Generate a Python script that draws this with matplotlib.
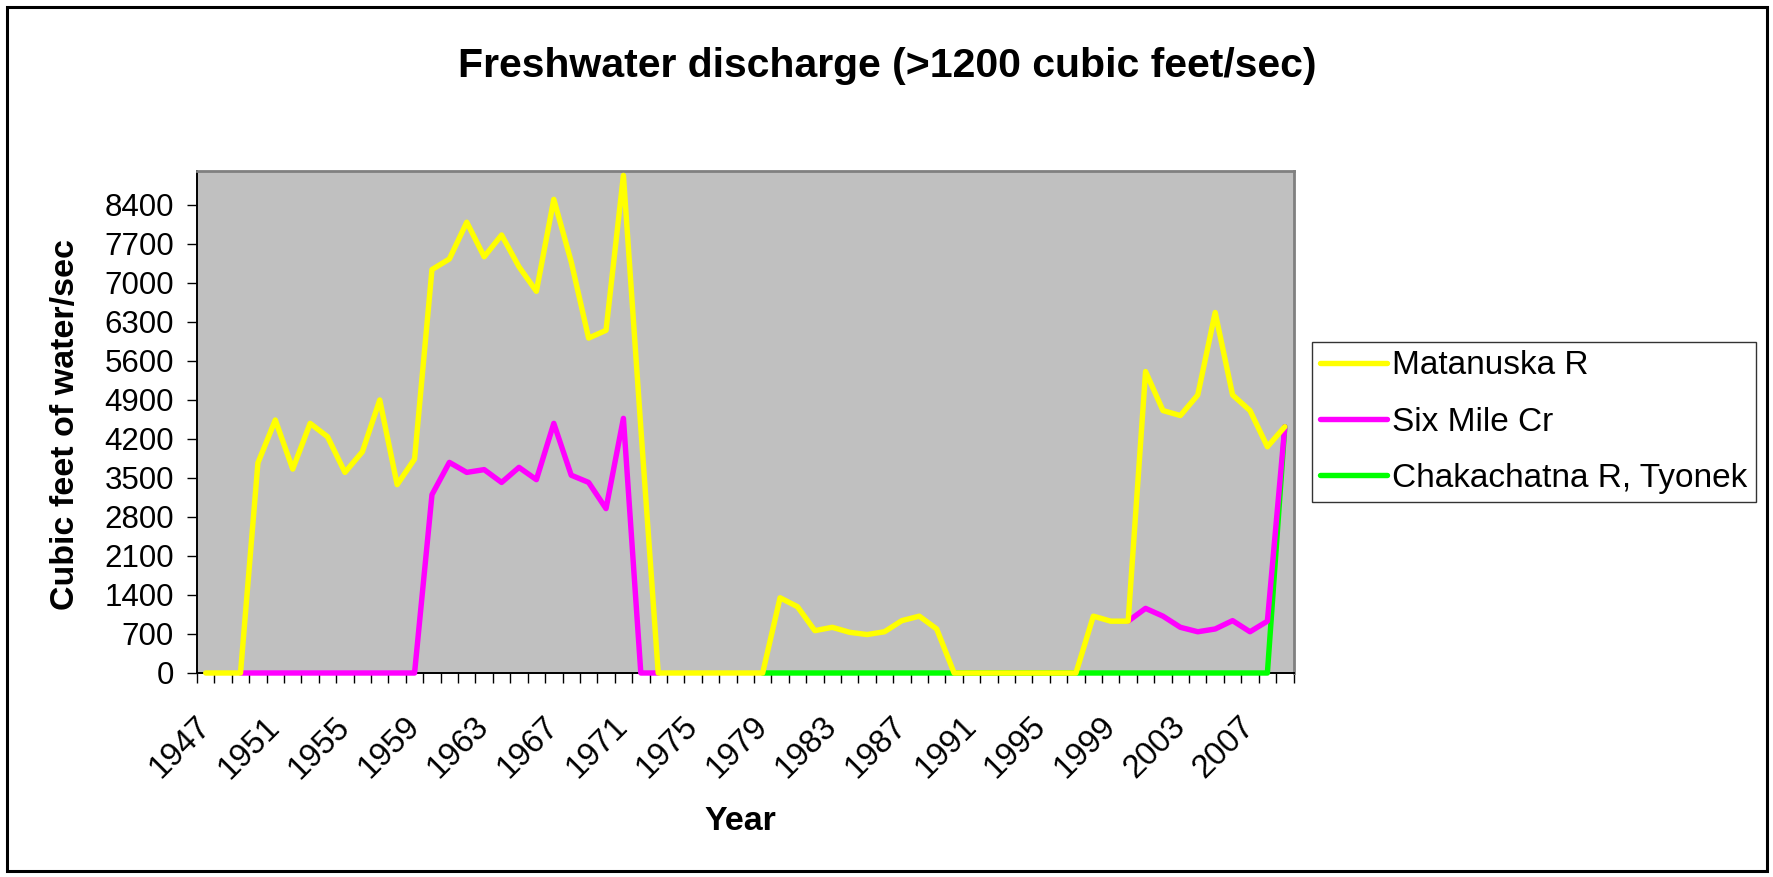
import numpy as np
import matplotlib
matplotlib.use('Agg')
import matplotlib.pyplot as plt
from matplotlib.transforms import ScaledTranslation
from matplotlib.patches import Rectangle

plt.rcParams['font.family'] = ['Liberation Sans', 'DejaVu Sans']

# ---------------- data ----------------
years = list(range(1947, 2010))
matanuska = [0, 0, 0,
             3770, 4540, 3660, 4480, 4240, 3600, 3970, 4900, 3380, 3840,
             7240, 7430, 8090, 7470, 7860, 7290, 6850, 8500, 7380, 6010, 6150, 8930, 4400,
             0, 0, 0, 0, 0, 0, 0,
             1350, 1190, 760, 820, 730, 690, 740, 940, 1020, 790,
             0, 0, 0, 0, 0, 0, 0, 0,
             1020, 930, 930, 5410, 4710, 4620, 4990, 6470, 4990, 4710, 4060, 4420]
six_mile = [None, None,
            0, 0, 0, 0, 0, 0, 0, 0, 0, 0, 0,
            3200, 3780, 3600, 3650, 3420, 3690, 3470, 4480, 3550, 3420, 2950, 4570,
            0, 0] + [None] * 26 + \
           [930, 1160, 1020, 820, 740, 790, 940, 740, 930, 4420]
chakachatna = [None] * 32 + [0] * 30 + [4420]
series_names = ['Matanuska R', 'Six Mile Cr', 'Chakachatna R, Tyonek']
series_colors = ['#FFFF00', '#FF00FF', '#00FF00']
y_ticks = list(range(0, 8401, 700))
label_years = years[::4]

title = 'Freshwater discharge (>1200 cubic feet/sec)'
ylabel = 'Cubic feet of water/sec'
xlabel = 'Year'

# ---------------- figure ----------------
W, H = 1773, 877
fig = plt.figure(figsize=(W / 100, H / 100), dpi=100)
fig.patch.set_facecolor('white')

L, R, T, B = 197, 1293.5, 171.5, 673
ax = fig.add_axes([L / W, 1 - B / H, (R - L) / W, (B - T) / H])
ax.set_facecolor('#C0C0C0')

x = np.arange(len(years))
def arr(v):
    return np.array([np.nan if a is None else a for a in v], dtype=float)

data = [arr(matanuska), arr(six_mile), arr(chakachatna)]
zorders = [5, 4, 3]
lw = 3.9
handles = []
for d, c, z, n in zip(data, series_colors, zorders, series_names):
    ln, = ax.plot(x, d, color=c, lw=lw, zorder=z, solid_joinstyle='round',
                  solid_capstyle='round', label=n, clip_on=False)
    handles.append(ln)

ax.set_xlim(-0.5, len(years) - 0.5)
ax.set_ylim(0, 9000)
ax.set_yticks(y_ticks)
ax.set_yticklabels([str(v) for v in y_ticks])
ax.set_xticks(np.arange(-0.5, len(years), 1))
ax.set_xticklabels([])
ax.tick_params(axis='both', direction='out', length=7.5, width=1.0, color='black')
ax.tick_params(axis='y', labelsize=22.5, pad=9)

for s in ['left', 'bottom']:
    ax.spines[s].set_color('black')
    ax.spines[s].set_linewidth(1.4)
for s in ['top', 'right']:
    ax.spines[s].set_color('#808080')
    ax.spines[s].set_linewidth(2.0)

off = ScaledTranslation(-11 / 100, -38 / 100, fig.dpi_scale_trans)
for yv in label_years:
    i = years.index(yv)
    ax.text(i, 0, str(yv), transform=ax.get_xaxis_transform() + off,
            rotation=45, rotation_mode='anchor', ha='right', va='top',
            fontsize=23.5)

fig.text(887.5 / W, 1 - 66 / H, title, ha='center', va='center',
         fontsize=29.5, fontweight='bold')
fig.text(66 / W, 1 - 424 / H, ylabel, ha='center', va='center', rotation=90,
         fontsize=24.5, fontweight='bold')
fig.text(740.6 / W, 1 - 822 / H, xlabel, ha='center', va='center',
         fontsize=24.5, fontweight='bold')

leg = fig.legend(handles=handles, labels=series_names, loc='upper left',
                 bbox_to_anchor=(1312 / W, 1 - 342 / H), frameon=True,
                 fontsize=24, handlelength=2.0, handletextpad=0.15,
                 labelspacing=0.76, borderpad=0.25, borderaxespad=0,
                 fancybox=False, edgecolor='black')
leg.get_frame().set_linewidth(1.0)

fig.patches.append(Rectangle((7 / W, (H - 871) / H), (1767 - 7) / W, (871 - 6.5) / H,
                             transform=fig.transFigure, fill=False,
                             edgecolor='black', lw=2.2))

fig.savefig('out.png', dpi=100, facecolor='white')
